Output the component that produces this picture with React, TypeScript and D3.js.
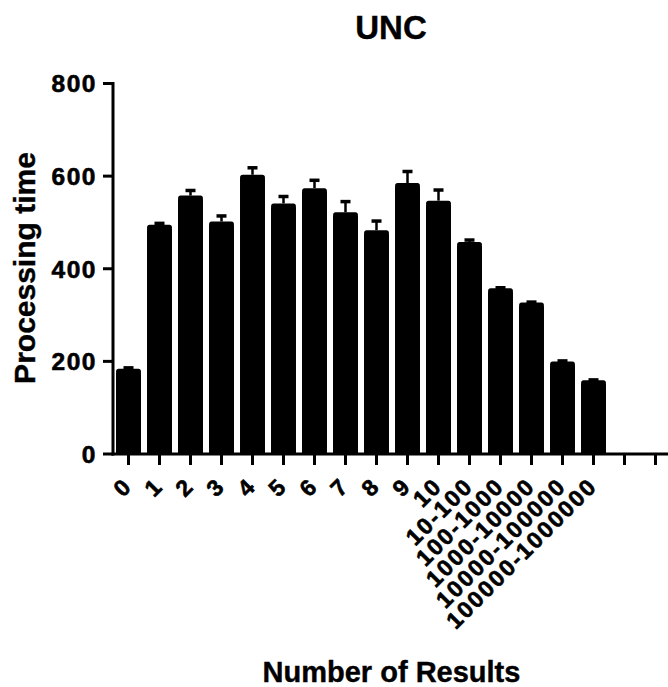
import React from "react";
import * as d3 from "d3";

const categories = ["0", "1", "2", "3", "4", "5", "6", "7", "8", "9", "10", "10-100", "100-1000", "1000-10000", "10000-100000", "100000-1000000"];
const emptySlots = 2;
const means = [184, 495, 558, 502, 603, 541, 574, 522, 483, 585, 547, 458, 358, 327, 200, 159];
const errors = [2, 3, 11, 12, 15, 15, 17, 23, 20, 25, 23, 4, 1, 1, 1, 1];
const yTicks = [0, 200, 400, 600, 800];
const title = "UNC";
const xTitle = "Number of Results";
const yTitle = "Processing time";

const W = 668;
const H = 687;
const FONT = "'Liberation Sans', Arial, Helvetica, sans-serif";

export default function App() {
  const n = categories.length + emptySlots;
  const x = d3.scaleBand<number>().domain(d3.range(n)).range([113, 113 + 31 * n]).paddingInner(0.2).paddingOuter(0.1);
  const y = d3.scaleLinear().domain([0, 800]).range([454, 83.5]);
  const bw = x.bandwidth();
  const axisX = 113;
  const axisY = y(0);

  return (
    <svg width={W} height={H} style={{ position: "absolute", left: 0, top: 0, background: "#fff" }} fontFamily={FONT}>
      <rect x={0} y={0} width={W} height={H} fill="#fff" />
      {/* Title */}
      <text x={391} y={39} textAnchor="middle" fontSize={33} fontWeight="bold" stroke="#000" strokeWidth={0.4}>{title}</text>
      {/* Bars */}
      {means.map((m, i) => {
        const x0 = x(i)!;
        const cx = x0 + bw / 2;
        const top = y(m);
        const capY = y(m + errors[i]);
        return (
          <g key={i}>
            <line x1={cx} x2={cx} y1={top} y2={capY} stroke="#000" strokeWidth={2.5} />
            <line x1={cx - 5} x2={cx + 5} y1={capY} y2={capY} stroke="#000" strokeWidth={3.5} />
            <rect x={x0} y={top} width={bw} height={axisY - top} fill="#000" rx={2.5} ry={2.5} />
            <rect x={x0} y={top + 4} width={bw} height={axisY - top - 4} fill="#000" />
          </g>
        );
      })}
      {/* Y axis */}
      <line x1={axisX} x2={axisX} y1={y(800) - 1.5} y2={axisY + 1.5} stroke="#000" strokeWidth={3} />
      {yTicks.map((t) => (
        <g key={t}>
          <line x1={axisX - 10} x2={axisX} y1={y(t)} y2={y(t)} stroke="#000" strokeWidth={3} />
          <text x={97} y={y(t)} dy="0.36em" textAnchor="end" fontSize={24.5} fontWeight="bold" letterSpacing={1.5} stroke="#000" strokeWidth={0.6}>{t}</text>
        </g>
      ))}
      {/* X axis */}
      <line x1={axisX - 1.5} x2={W} y1={axisY} y2={axisY} stroke="#000" strokeWidth={3} />
      {d3.range(n).map((i) => {
        const cx = x(i)! + bw / 2;
        return <line key={i} x1={cx} x2={cx} y1={axisY} y2={axisY + 11} stroke="#000" strokeWidth={3} />;
      })}
      {categories.map((c, i) => {
        const cx = x(i)! + bw / 2;
        return (
          <text key={c} transform={`translate(${cx + 5},${487.5}) rotate(-45)`} textAnchor="end" fontSize={23} fontWeight="bold" letterSpacing={2} stroke="#000" strokeWidth={0.6}>{c}</text>
        );
      })}
      {/* Axis titles */}
      <text x={391.5} y={682} textAnchor="middle" fontSize={29} fontWeight="bold" stroke="#000" strokeWidth={0.4}>{xTitle}</text>
      <text transform={`translate(35,268) rotate(-90)`} textAnchor="middle" fontSize={30} fontWeight="bold" stroke="#000" strokeWidth={0.4}>{yTitle}</text>
    </svg>
  );
}
